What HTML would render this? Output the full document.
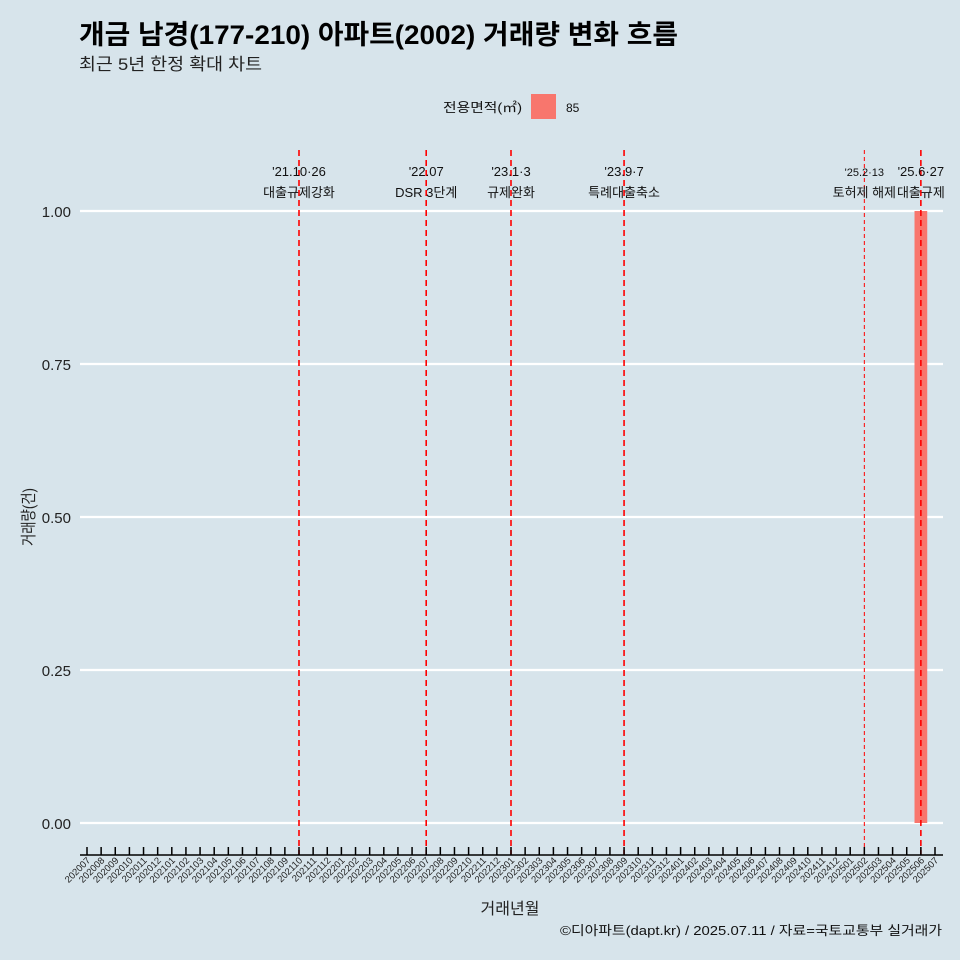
<!DOCTYPE html>
<html><head><meta charset="utf-8"><style>
body{margin:0;background:#d7e4eb;}
svg{display:block;font-family:"Liberation Sans","Noto Sans CJK KR",sans-serif;}
</style></head><body>
<svg id="chart" width="960" height="960" xmlns="http://www.w3.org/2000/svg">
<rect width="960" height="960" fill="#d7e4eb"/>
<text x="79" y="44" font-size="27" font-weight="bold" fill="#000" textLength="599" lengthAdjust="spacingAndGlyphs">개금 남경(177-210) 아파트(2002) 거래량 변화 흐름</text>
<text x="79" y="70" font-size="17" fill="#222" textLength="183" lengthAdjust="spacingAndGlyphs">최근 5년 한정 확대 차트</text>
<text x="522" y="112" font-size="13" text-anchor="end" fill="#111" textLength="79" lengthAdjust="spacingAndGlyphs">전용면적(㎡)</text>
<rect x="531" y="94" width="25" height="25" fill="#f8766d"/>
<text x="566" y="112" font-size="12" fill="#111">85</text>
<g id="grid"></g><g id="bars"></g><g id="vlines"></g><g id="axes"></g>
<text x="510" y="914" font-size="16" text-anchor="middle" fill="#222">거래년월</text>
<text transform="translate(34,517) rotate(-90)" font-size="16" text-anchor="middle" fill="#222" textLength="58" lengthAdjust="spacingAndGlyphs">거래량(건)</text>
<text x="942" y="935" font-size="13" text-anchor="end" fill="#111" textLength="382" lengthAdjust="spacingAndGlyphs">©디아파트(dapt.kr) / 2025.07.11 / 자료=국토교통부 실거래가</text>
</svg>
<script>
const months = [];
for (let y = 2020; y <= 2025; y++) for (let m = 1; m <= 12; m++) { const k = y*100+m; if (k >= 202007 && k <= 202507) months.push(String(k)); }
const barMonths = ["202506"];
const barValues = [1];
const yTicks = [0, 0.25, 0.5, 0.75, 1.0];
const yTickLabels = ["0.00", "0.25", "0.50", "0.75", "1.00"];
const eventMonths = ["202110", "202207", "202301", "202309", "202502", "202506"];
const eventLine1 = ["'21.10·26", "'22.07", "'23.1·3", "'23.9·7", "'25.2·13", "'25.6·27"];
const eventLine2 = ["대출규제강화", "DSR 3단계", "규제완화", "특례대출축소", "토허제 해제", "대출규제"];

const NS = "http://www.w3.org/2000/svg";
const x0 = 87, step = (935-87)/60;
const xs = m => x0 + months.indexOf(m) * step;
const ys = v => 823 - v * (823-211);
function mk(tag, attrs, parent, txt){const e=document.createElementNS(NS,tag);for(const k in attrs)e.setAttribute(k,attrs[k]);if(txt!=null)e.textContent=txt;document.getElementById(parent).appendChild(e);return e;}

yTicks.forEach((t,i)=>{
  const l = mk("line",{x1:80,x2:943,y1:ys(t),y2:ys(t),stroke:"#fff","stroke-width":2.2},"grid");
  
  
  const tx = mk("text",{x:71,y:ys(t)+6,"font-size":15,"text-anchor":"end",fill:"#222"},"grid",yTickLabels[i]);
  
  
});
barMonths.forEach((m,i)=>{
  const w = step*0.9;
  const r = mk("rect",{x:xs(m)-w/2,y:ys(barValues[i]),width:w,height:ys(0)-ys(barValues[i]),fill:"#f8766d"},"bars");
  
  
});
eventMonths.forEach((m,i)=>{
  const x = xs(m);
  const thin = m === "202502";
  const l = mk("line",{x1:x,x2:x,y1:150,y2:855,stroke:"#ff0000","stroke-width":thin?1:1.6,"stroke-dasharray":thin?"4,3":"6,4"},"vlines");
  
  
  const big = !thin;
  const t1 = mk("text",{x:x,y:176,"font-size":big?13:11,"text-anchor":"middle",fill:"#111"},"vlines",eventLine1[i]);
  
  
  const t2 = mk("text",{x:x,y:197,"font-size":13,"text-anchor":"middle",fill:"#111"},"vlines",eventLine2[i]);
  
  
});
const ax = mk("line",{x1:80,x2:943,y1:855,y2:855,stroke:"#000","stroke-width":1.5},"axes");


months.forEach(m=>{
  const x = xs(m);
  const tk = mk("line",{x1:x,x2:x,y1:847,y2:855,stroke:"#000","stroke-width":1.5},"axes");
  
  
  const t = mk("text",{transform:`translate(${x+4},861) rotate(-45)`,"font-size":9.5,"text-anchor":"end",fill:"#222"},"axes",m);
  
  
});
</script>
</body></html>
